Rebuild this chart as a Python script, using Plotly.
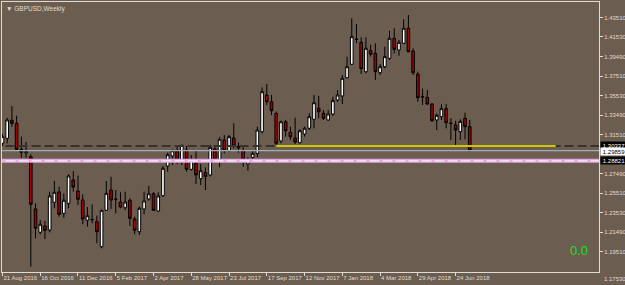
import plotly.graph_objects as go

# ---------------- data ----------------
symbol_title = "GBPUSD,Weekly"

date_labels = ["21 Aug 2016", "16 Oct 2016", "11 Dec 2016", "5 Feb 2017", "2 Apr 2017",
               "28 May 2017", "23 Jul 2017", "17 Sep 2017", "12 Nov 2017", "7 Jan 2018",
               "4 Mar 2018", "29 Apr 2018", "24 Jun 2018"]
label_bar_index = [0, 8, 16, 24, 32, 40, 48, 56, 64, 72, 80, 88, 96]

price_tick_vals = [1.4351, 1.4153, 1.3949, 1.3751, 1.3553, 1.3349, 1.3151,
                   1.2749, 1.2551, 1.2353, 1.2149, 1.1951]
price_tick_text = ["1.43510", "1.41530", "1.39490", "1.37510", "1.35530", "1.33490", "1.31510",
                   "1.27490", "1.25510", "1.23530", "1.21490", "1.19510"]
bottom_price_label = "1.17530"

open_ = [1.3062, 1.3113, 1.3298, 1.3267, 1.3000, 1.2963, 1.2925, 1.2389, 1.2150, 1.2214,
         1.2173, 1.2457, 1.2563, 1.2344, 1.2447, 1.2686, 1.2573, 1.2481, 1.2273, 1.2282,
         1.2258, 1.2002, 1.2375, 1.2583, 1.2485, 1.2460, 1.2402, 1.2478, 1.2286, 1.2156,
         1.2389, 1.2491, 1.2545, 1.2368, 1.2525, 1.2829, 1.2932, 1.2983, 1.2870, 1.2993,
         1.2795, 1.2857, 1.2699, 1.2761, 1.2737, 1.3004, 1.2884, 1.3096, 1.2986, 1.3116,
         1.3034, 1.2986, 1.2850, 1.2918, 1.2959, 1.3181, 1.3557, 1.3488, 1.3369, 1.3086,
         1.3283, 1.3175, 1.3116, 1.3068, 1.3157, 1.3216, 1.3308, 1.3421, 1.3369, 1.3301,
         1.3362, 1.3506, 1.3547, 1.3734, 1.3872, 1.4130, 1.4097, 1.3796, 1.4011, 1.3984,
         1.3786, 1.3847, 1.3933, 1.4138, 1.4018, 1.4087, 1.4241, 1.4008, 1.3772, 1.3542,
         1.3533, 1.3465, 1.3301, 1.3335, 1.3417, 1.3270, 1.3250, 1.3181, 1.3318, 1.3232]
high = [1.3157, 1.3324, 1.3444, 1.3345, 1.3130, 1.3075, 1.2949, 1.2447, 1.2276, 1.2266,
        1.2566, 1.2676, 1.2617, 1.2549, 1.2744, 1.2778, 1.2730, 1.2539, 1.2409, 1.2437,
        1.2320, 1.2381, 1.2676, 1.2720, 1.2583, 1.2560, 1.2566, 1.2498, 1.2310, 1.2412,
        1.2566, 1.2624, 1.2560, 1.2560, 1.2829, 1.2966, 1.3000, 1.3027, 1.3048, 1.3034,
        1.2942, 1.2986, 1.2850, 1.2816, 1.3045, 1.3034, 1.3123, 1.3147, 1.3147, 1.3267,
        1.3068, 1.3041, 1.2918, 1.2993, 1.3232, 1.3636, 1.3670, 1.3557, 1.3386, 1.3294,
        1.3301, 1.3232, 1.3324, 1.3205, 1.3232, 1.3369, 1.3557, 1.3547, 1.3403, 1.3403,
        1.3540, 1.3608, 1.3762, 1.3950, 1.4343, 1.4285, 1.4148, 1.4148, 1.4073, 1.4087,
        1.3875, 1.4052, 1.4216, 1.4241, 1.4121, 1.4333, 1.4377, 1.4036, 1.3796, 1.3622,
        1.3608, 1.3472, 1.3369, 1.3465, 1.3465, 1.3318, 1.3294, 1.3308, 1.3376, 1.3301]
low = [1.3034, 1.3062, 1.3232, 1.2993, 1.2914, 1.2914, 1.1797, 1.2088, 1.2129, 1.2081,
       1.2150, 1.2396, 1.2310, 1.2299, 1.2396, 1.2566, 1.2430, 1.2232, 1.2207, 1.2242,
       1.2037, 1.1986, 1.2368, 1.2389, 1.2344, 1.2396, 1.2378, 1.2214, 1.2129, 1.2122,
       1.2334, 1.2471, 1.2368, 1.2361, 1.2512, 1.2771, 1.2840, 1.2850, 1.2840, 1.2771,
       1.2781, 1.2645, 1.2635, 1.2583, 1.2720, 1.2863, 1.2816, 1.2959, 1.2980, 1.3011,
       1.2966, 1.2822, 1.2781, 1.2884, 1.2918, 1.3164, 1.3455, 1.3352, 1.3045, 1.3062,
       1.3130, 1.3096, 1.3055, 1.3062, 1.3130, 1.3198, 1.3216, 1.3318, 1.3301, 1.3291,
       1.3342, 1.3488, 1.3465, 1.3728, 1.3865, 1.4087, 1.3772, 1.3779, 1.3950, 1.3711,
       1.3762, 1.3831, 1.3916, 1.3984, 1.3960, 1.4080, 1.3995, 1.3762, 1.3488, 1.3455,
       1.3455, 1.3283, 1.3198, 1.3301, 1.3216, 1.3096, 1.3045, 1.3096, 1.3103, 1.2983]
close = [1.3130, 1.3301, 1.3267, 1.3000, 1.2970, 1.2976, 1.2437, 1.2191, 1.2232, 1.2170,
         1.2522, 1.2560, 1.2334, 1.2478, 1.2727, 1.2614, 1.2488, 1.2286, 1.2320, 1.2279,
         1.2156, 1.2375, 1.2549, 1.2481, 1.2490, 1.2409, 1.2460, 1.2293, 1.2170, 1.2396,
         1.2471, 1.2545, 1.2375, 1.2522, 1.2806, 1.2945, 1.2986, 1.2884, 1.3041, 1.2795,
         1.2891, 1.2737, 1.2781, 1.2720, 1.3021, 1.2884, 1.3103, 1.2993, 1.3130, 1.3034,
         1.3014, 1.2873, 1.2891, 1.2959, 1.3198, 1.3591, 1.3488, 1.3396, 1.3062, 1.3283,
         1.3191, 1.3130, 1.3075, 1.3191, 1.3216, 1.3335, 1.3478, 1.3386, 1.3318, 1.3362,
         1.3499, 1.3557, 1.3728, 1.3847, 1.4155, 1.4127, 1.3827, 1.4036, 1.3974, 1.3796,
         1.3847, 1.3950, 1.4138, 1.4025, 1.4097, 1.4241, 1.4001, 1.3786, 1.3529, 1.3536,
         1.3465, 1.3294, 1.3349, 1.3417, 1.3273, 1.3265, 1.3198, 1.3287, 1.3232, 1.29859]

hline_price = 1.30337          # dark dashed horizontal line
hline_label = "1.30337"
pink_price = 1.28821           # pink horizontal line
pink_label = "1.28821"
trend_bars = [58, 117.2]       # yellow line start / end (bar positions)
trend_prices = [1.30337, 1.30337]
indicator_text = "0.0"

# ---------------- figure ----------------
BG = "#6b5d4f"
FG = "#e2dbd2"
bars = list(range(len(open_)))
x_lo, x_hi = -0.1, 126.38
bid_price = close[-1]

fig = go.Figure()

fig.add_trace(go.Candlestick(
    x=bars, open=open_, high=high, low=low, close=close,
    increasing=dict(fillcolor="#ffffff", line=dict(color="#000000", width=1)),
    decreasing=dict(fillcolor="#a00000", line=dict(color="#000000", width=1)),
    whiskerwidth=0, hoverinfo="skip", showlegend=False))

full_x = [x_lo - 2, x_hi + 2]
fig.add_trace(go.Scatter(x=full_x, y=[hline_price] * 2, mode="lines",
                         line=dict(color="#38322c", width=2, dash="9px,4px"),
                         hoverinfo="skip", showlegend=False))
fig.add_trace(go.Scatter(x=full_x, y=[bid_price] * 2, mode="lines",
                         line=dict(color="#a3abb6", width=1.2),
                         hoverinfo="skip", showlegend=False))
fig.add_trace(go.Scatter(x=full_x, y=[pink_price] * 2, mode="lines",
                         line=dict(color="#e3a9e3", width=4),
                         hoverinfo="skip", showlegend=False))
fig.add_trace(go.Scatter(x=full_x, y=[pink_price] * 2, mode="lines",
                         line=dict(color="#fbeefb", width=1.2, dash="10px,3px"),
                         hoverinfo="skip", showlegend=False))
fig.add_trace(go.Scatter(x=trend_bars, y=trend_prices, mode="lines",
                         line=dict(color="#cdc600", width=2),
                         hoverinfo="skip", showlegend=False))

annotations = [
    dict(xref="paper", yref="paper", x=0, y=1, xanchor="left", yanchor="top",
         xshift=2, yshift=-1, text="▼ " + symbol_title, showarrow=False,
         font=dict(size=6.5, color=FG)),
    dict(xref="paper", yref="paper", x=0.9665, y=0.078, xanchor="center", yanchor="middle",
         text=indicator_text, showarrow=False,
         font=dict(size=13, color="#18e018", family="Liberation Sans")),
    dict(xref="paper", yref="paper", x=1, y=0, xanchor="left", yanchor="middle",
         xshift=3, yshift=-7, text=bottom_price_label, showarrow=False,
         font=dict(size=6, color=FG)),
    dict(xref="paper", yref="y", x=1, y=hline_price, xanchor="left", yanchor="middle",
         xshift=1, yshift=1, text=hline_label, showarrow=False, bgcolor="#000000",
         borderpad=0.5, width=25, font=dict(size=6, color="#ffffff")),
    dict(xref="paper", yref="y", x=1, y=bid_price, xanchor="left", yanchor="middle",
         xshift=1, yshift=-1, text=f"{bid_price:.5f}", showarrow=False, bgcolor="#ffffff",
         borderpad=0.5, width=25, font=dict(size=6, color="#000000")),
    dict(xref="paper", yref="y", x=1, y=pink_price, xanchor="left", yanchor="middle",
         xshift=1, text=pink_label, showarrow=False, bgcolor="#000000",
         borderpad=0.5, width=25, font=dict(size=6, color="#ffffff")),
]

fig.update_layout(
    width=625, height=285,
    margin=dict(l=2, r=26, t=2, b=13, autoexpand=False),
    paper_bgcolor=BG, plot_bgcolor=BG,
    showlegend=False,
    boxgap=0.2,
    font=dict(family="Liberation Sans", size=6, color=FG),
    annotations=annotations,
    xaxis=dict(range=[x_lo, x_hi], rangeslider=dict(visible=False),
               showgrid=False, zeroline=False, automargin=False,
               showline=True, linecolor=FG, linewidth=1, mirror=True,
               ticks="outside", ticklen=3, tickcolor=FG, tickwidth=1,
               tickvals=label_bar_index, ticktext=date_labels, tickangle=0,
               ticklabelposition="outside right",
               tickfont=dict(size=6, color=FG)),
    yaxis=dict(range=[1.17428, 1.45103], side="right", automargin=False,
               showgrid=False, zeroline=False,
               showline=True, linecolor=FG, linewidth=1, mirror=True,
               ticks="outside", ticklen=3, tickcolor=FG, tickwidth=1,
               tickvals=price_tick_vals, ticktext=price_tick_text,
               tickfont=dict(size=6, color=FG)),
)

fig.write_html("out.html")
